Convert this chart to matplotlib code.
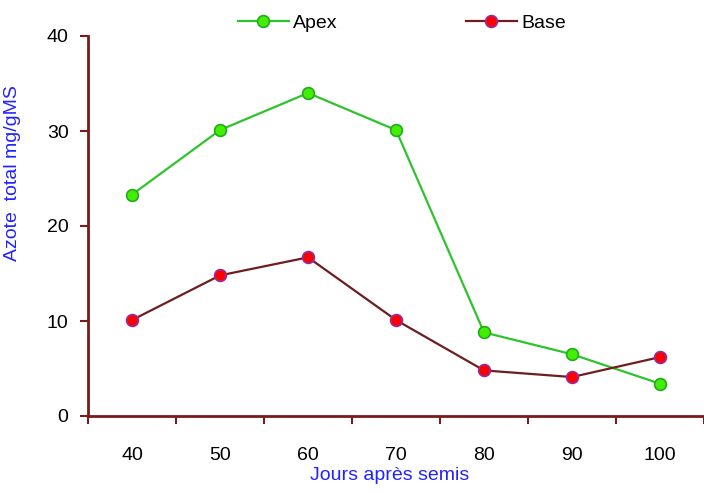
import matplotlib.pyplot as plt
import numpy as np

# Nitrogen content (mg/g DM) by days after sowing
days = ["40", "50", "60", "70", "80", "90", "100"]
apex = [23.3, 30.1, 34.0, 30.1, 8.8, 6.5, 3.4]
base = [10.1, 14.8, 16.7, 10.1, 4.8, 4.1, 6.2]

plt.rcParams["font.family"] = ["Liberation Sans", "DejaVu Sans"]

axis_color = "#7a1a1a"

fig = plt.figure(figsize=(7.04, 4.93), dpi=100)
ax = fig.add_axes([88 / 704, 1 - 416 / 493, 1 - 88 / 704, 380 / 493])

x = np.arange(len(days))
ax.plot(x, apex, color="#2ec42e", lw=1.6, marker="o", ms=8.5,
        mfc="#44ee00", mec="#22aa22", mew=1.2, label="Apex")
ax.plot(x, base, color="#6e1e1e", lw=1.6, marker="o", ms=8.5,
        mfc="#ff0000", mec="#9a2a9a", mew=1.2, label="Base")

ax.set_xlim(-0.5, -0.5 + (704 - 88) / 88.8)
ax.set_ylim(0, 40)
ax.set_yticks([0, 10, 20, 30, 40])
ax.set_xticks(x)
ax.set_xticklabels(days)
ax.set_xticks(np.arange(len(days) + 1) - 0.5, minor=True)
ax.tick_params(axis="x", which="major", length=0, pad=22, labelsize=14)
ax.tick_params(axis="x", which="minor", length=6, width=1.5, color=axis_color)
ax.tick_params(axis="y", length=6, width=1.5, color=axis_color, labelsize=14, pad=8)

for side in ["top", "right"]:
    ax.spines[side].set_visible(False)
for side in ["left", "bottom"]:
    ax.spines[side].set_color(axis_color)
    ax.spines[side].set_linewidth(2)

ax.set_xlabel("Jours après semis", color="#2222ff", fontsize=14)
ax.xaxis.set_label_coords(302 / 616, -0.135)
ax.set_ylabel("Azote  total mg/gMS", color="#2222ff", fontsize=14)
ax.yaxis.set_label_coords(-0.108, 0.64)

ax.legend(loc="lower center", bbox_to_anchor=(0.51, 0.965), ncol=2, frameon=False,
          fontsize=14, columnspacing=6.6, handlelength=2.6, handletextpad=0.25)

fig.savefig("out.png", dpi=100)
